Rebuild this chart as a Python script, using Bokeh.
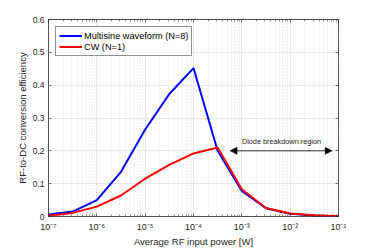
from bokeh.plotting import figure
from bokeh.models import (FixedTicker, CustomJSTickFormatter, LogAxis, LinearAxis,
                          Legend, LegendItem, Arrow, NormalHead, Label, Range1d)
from bokeh.embed import file_html
from bokeh.resources import INLINE

# ---- data ----
power_w = [1e-7, 3.16e-7, 1e-6, 3.16e-6, 1e-5, 3.16e-5, 1e-4, 3.16e-4,
           1e-3, 3.16e-3, 1e-2, 3.16e-2, 1e-1]
eff_multisine = [0.006, 0.015, 0.050, 0.136, 0.265, 0.373, 0.452, 0.200,
                 0.078, 0.025, 0.008, 0.003, 0.001]
eff_cw = [0.002, 0.011, 0.030, 0.064, 0.115, 0.157, 0.192, 0.210,
          0.083, 0.026, 0.009, 0.004, 0.001]
series_names = ["Multisine waveform (N=8)", "CW (N=1)"]
x_major_ticks = [1e-7, 1e-6, 1e-5, 1e-4, 1e-3, 1e-2, 1e-1]
x_minor_ticks = [m * t for t in x_major_ticks[:-1] for m in (2, 3, 4, 5, 6, 7, 8, 9)]
y_ticks = [0, 0.1, 0.2, 0.3, 0.4, 0.5, 0.6]
arrow_x = [5.7e-4, 0.074]
arrow_y = 0.2
annot_text = "Diode breakdown region"
annot_x = 6.6e-3
annot_y = 0.229

FONT = "Liberation Sans"
TXT = "#262626"

p = figure(frame_width=290, frame_height=197,
           x_axis_type="log", output_backend="svg", toolbar_location=None,
           x_range=Range1d(1e-7, 1e-1), y_range=Range1d(0, 0.6),
           min_border_left=48, min_border_top=19, min_border_right=36, min_border_bottom=32)
p.outline_line_color = TXT
p.outline_line_width = 0.8

sup_js = r"""
const m = {'-':'\u207b','0':'\u2070','1':'\u00b9','2':'\u00b2','3':'\u00b3','4':'\u2074',
           '5':'\u2075','6':'\u2076','7':'\u2077','8':'\u2078','9':'\u2079'};
const e = Math.round(Math.log10(tick));
return '10' + String(e).split('').map(c => m[c]).join('');
"""
y_js = r"""
return tick === 0 ? '0' : tick.toFixed(1);
"""

xt = FixedTicker(ticks=x_major_ticks, minor_ticks=x_minor_ticks)
yt = FixedTicker(ticks=y_ticks)

def style_axis(ax):
    ax.axis_line_color = None
    ax.major_tick_in = 3
    ax.major_tick_out = 0
    ax.minor_tick_in = 2
    ax.minor_tick_out = 0
    ax.major_tick_line_color = TXT
    ax.minor_tick_line_color = TXT
    ax.major_tick_line_width = 0.6
    ax.minor_tick_line_width = 0.5
    ax.major_label_text_font = FONT
    ax.major_label_text_color = TXT
    ax.major_label_text_font_size = "8.5px"
    ax.axis_label_text_font = FONT
    ax.axis_label_text_color = TXT
    ax.axis_label_text_font_size = "9.5px"
    ax.axis_label_text_font_style = "normal"

xa = p.xaxis[0]
xa.ticker = xt
xa.formatter = CustomJSTickFormatter(code=sup_js)
xa.axis_label = "Average RF input power [W]"
style_axis(xa)
xa.major_label_standoff = 5
xa.axis_label_standoff = 1
xa.major_label_text_font_size = "9px"

ya = p.yaxis[0]
ya.ticker = yt
ya.formatter = CustomJSTickFormatter(code=y_js)
ya.axis_label = "RF-to-DC conversion efficiency"
style_axis(ya)
ya.minor_tick_line_color = None
ya.major_label_standoff = 4
ya.axis_label_standoff = 2

top = LogAxis(ticker=xt)
style_axis(top)
top.major_label_text_color = None
top.major_label_text_font_size = "1px"
top.major_label_standoff = 0
p.add_layout(top, "above")
right = LinearAxis(ticker=yt)
style_axis(right)
right.major_label_text_color = None
right.major_label_text_font_size = "1px"
right.major_label_standoff = 0
right.minor_tick_line_color = None
p.add_layout(right, "right")

p.xgrid.ticker = xt
p.xgrid.grid_line_color = "#e3e3e3"
p.xgrid.grid_line_width = 0.8
p.xgrid.minor_grid_line_color = "#d8d8d8"
p.xgrid.minor_grid_line_dash = "1 2"
p.xgrid.minor_grid_line_width = 0.6
p.ygrid.ticker = yt
p.ygrid.grid_line_color = "#e3e3e3"
p.ygrid.grid_line_width = 0.8

r1 = p.line(power_w, eff_multisine, line_color="#0000ff", line_width=2)
r2 = p.line(power_w, eff_cw, line_color="#ff0000", line_width=2)

legend = Legend(items=[LegendItem(label=series_names[0], renderers=[r1]),
                       LegendItem(label=series_names[1], renderers=[r2])],
                location="top_left")
legend.label_text_font = FONT
legend.label_text_color = "#000000"
legend.label_text_font_size = "9.2px"
legend.padding = 3
legend.spacing = 0
legend.margin = 7
legend.label_height = 11
legend.glyph_height = 11
legend.glyph_width = 23
legend.label_standoff = 2
legend.border_line_color = TXT
legend.border_line_width = 0.8
legend.background_fill_color = "white"
legend.background_fill_alpha = 1
p.add_layout(legend, "center")

arr = Arrow(start=NormalHead(size=7, fill_color="black", line_color="black", line_width=0.5),
            end=NormalHead(size=7, fill_color="black", line_color="black", line_width=0.5),
            x_start=arrow_x[0], x_end=arrow_x[1], y_start=arrow_y, y_end=arrow_y,
            line_color="black", line_width=0.8)
p.add_layout(arr)
p.add_layout(Label(x=annot_x, y=annot_y, text=annot_text, text_align="center",
                   text_baseline="middle", text_font=FONT, text_font_size="7.3px",
                   text_color=TXT))

open("out.html", "w", encoding="utf-8").write(file_html(p, INLINE))
